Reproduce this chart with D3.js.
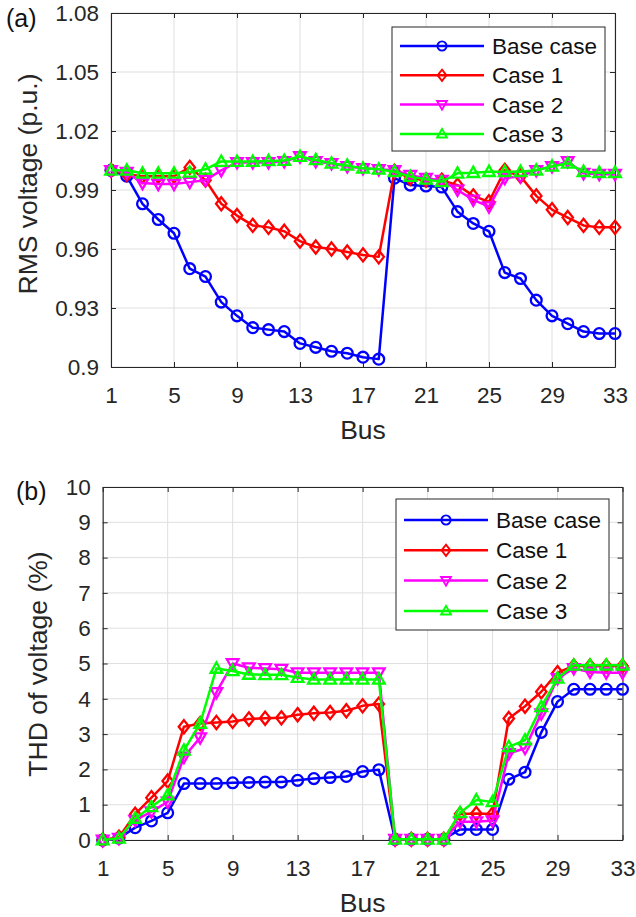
<!DOCTYPE html>
<html>
<head>
<meta charset="utf-8">
<script src="https://cdn.jsdelivr.net/npm/d3@7"></script>
<style>
html,body{margin:0;padding:0;background:#fff;}
svg{display:block;font-family:"Liberation Sans",Arial,Helvetica,sans-serif;}
</style>
</head>
<body>
<svg id="chart" width="636" height="917"></svg>
<script>
// ---------------- data ----------------
const buses = [1,2,3,4,5,6,7,8,9,10,11,12,13,14,15,16,17,18,19,20,21,22,23,24,25,26,27,28,29,30,31,32,33];
const seriesNames = ["Base case","Case 1","Case 2","Case 3"];
const xTicks = [1,5,9,13,17,21,25,29,33];
const rmsTicks = [0.9,0.93,0.96,0.99,1.02,1.05,1.08];
const rmsTickLabels = ["0.9","0.93","0.96","0.99","1.02","1.05","1.08"];
const thdTicks = [0,1,2,3,4,5,6,7,8,9,10];

const rmsBase  = [1.000,0.997,0.983,0.975,0.968,0.950,0.946,0.933,0.926,0.920,0.919,0.918,0.912,0.910,0.908,0.907,0.905,0.904,0.996,0.9925,0.992,0.9915,0.979,0.973,0.969,0.948,0.945,0.934,0.926,0.922,0.918,0.917,0.917];
const rmsCase1 = [1.000,0.998,0.997,0.997,0.997,1.0015,0.995,0.983,0.977,0.972,0.971,0.969,0.964,0.961,0.960,0.9585,0.957,0.956,0.9995,0.996,0.995,0.995,0.9925,0.987,0.984,1.000,0.997,0.987,0.980,0.976,0.972,0.971,0.971];
const rmsCase2 = [1.000,0.999,0.9935,0.993,0.993,0.994,0.995,1.000,1.004,1.004,1.004,1.0045,1.007,1.0045,1.0035,1.002,1.001,1.0005,1.000,0.9975,0.996,0.995,0.990,0.985,0.9815,0.996,0.997,1.000,1.002,1.0045,0.9985,0.998,0.998];
const rmsCase3 = [1.000,1.000,0.9985,0.9985,0.9985,0.999,1.0005,1.0045,1.0045,1.0045,1.0048,1.005,1.007,1.0053,1.0036,1.0025,1.001,1.0005,0.9993,0.9968,0.9954,0.9942,0.9985,0.9988,0.9993,0.9993,0.9993,1.000,1.002,1.0036,0.9993,0.9988,0.9988];

const thdBase  = [0,0.05,0.35,0.54,0.77,1.60,1.60,1.60,1.62,1.63,1.64,1.64,1.69,1.74,1.77,1.80,1.94,1.99,0.02,0.02,0.02,0.02,0.30,0.30,0.30,1.72,1.92,3.05,3.92,4.27,4.27,4.27,4.27];
const thdCase1 = [0,0.08,0.73,1.20,1.67,3.21,3.30,3.33,3.36,3.43,3.45,3.46,3.55,3.59,3.61,3.66,3.80,3.85,0.02,0.02,0.02,0.02,0.74,0.75,0.74,3.44,3.79,4.20,4.74,4.93,4.93,4.93,4.93];
const thdCase2 = [0,0.05,0.56,0.80,1.08,2.35,2.90,4.18,5.00,4.88,4.86,4.84,4.74,4.74,4.74,4.74,4.74,4.74,0.02,0.02,0.02,0.02,0.52,0.52,0.55,2.45,2.60,3.58,4.58,4.86,4.76,4.74,4.74];
const thdCase3 = [0,0.05,0.61,0.94,1.27,2.54,3.30,4.86,4.79,4.69,4.68,4.68,4.60,4.55,4.55,4.55,4.55,4.55,0.02,0.02,0.02,0.02,0.77,1.13,1.08,2.64,2.83,3.77,4.58,4.95,4.95,4.95,4.95];

const colors = ["#0000ff","#ff0000","#ff00ff","#00ff00"];
const markers = ["circle","diamond","triDown","triUp"];

// ---------------- helpers ----------------
const svg = d3.select("#chart");
const INK = "#262626";
const TICK_FS = 22.5, LABEL_FS = 26.5;

function markerPath(type){
  switch(type){
    case "circle": return d3.symbol(d3.symbolCircle, Math.PI*5.4*5.4)();
    case "diamond": return "M0,-6.6L5.2,0L0,6.6L-5.2,0Z";
    case "triDown": return "M-5.8,-4.3L5.8,-4.3L0,6Z";
    case "triUp": return "M-5.8,4.3L5.8,4.3L0,-6Z";
  }
}

function panel(cfg){
  const x = d3.scaleLinear().domain([1,33]).range([cfg.left,cfg.right]);
  const y = d3.scaleLinear().domain(cfg.yDomain).range([cfg.bottom,cfg.top]);
  const g = svg.append("g");

  // grid
  g.append("g").selectAll("line").data(xTicks).join("line")
    .attr("x1",d=>x(d)).attr("x2",d=>x(d)).attr("y1",cfg.top).attr("y2",cfg.bottom)
    .attr("stroke","#dfdfdf").attr("stroke-width",1);
  g.append("g").selectAll("line").data(cfg.yTicks).join("line")
    .attr("y1",d=>y(d)).attr("y2",d=>y(d)).attr("x1",cfg.left).attr("x2",cfg.right)
    .attr("stroke","#dfdfdf").attr("stroke-width",1);

  // axes
  const ax = (sel)=>{sel.selectAll("path.domain").attr("stroke",INK).attr("stroke-width",1.1);
                     sel.selectAll(".tick line").attr("stroke",INK).attr("stroke-width",1);
                     sel.selectAll("text").attr("fill",INK).attr("font-size",TICK_FS).attr("font-family",null);};
  g.append("g").attr("transform",`translate(0,${cfg.bottom})`)
    .call(d3.axisBottom(x).tickValues(xTicks).tickFormat(d3.format("d")).tickSize(-5).tickSizeOuter(0).tickPadding(20))
    .call(ax);
  g.append("g").attr("transform",`translate(0,${cfg.top})`)
    .call(d3.axisTop(x).tickValues(xTicks).tickFormat("").tickSize(-5).tickSizeOuter(0))
    .call(ax);
  g.append("g").attr("transform",`translate(${cfg.left},0)`)
    .call(d3.axisLeft(y).tickValues(cfg.yTicks).tickFormat((d,i)=>cfg.yTickLabels[i]).tickSize(-5).tickSizeOuter(0).tickPadding(12))
    .call(ax);
  g.append("g").attr("transform",`translate(${cfg.right},0)`)
    .call(d3.axisRight(y).tickValues(cfg.yTicks).tickFormat("").tickSize(-5).tickSizeOuter(0))
    .call(ax);

  // series
  const line = d3.line().x((d,i)=>x(buses[i])).y(d=>y(d));
  cfg.series.forEach((vals,si)=>{
    const sg = g.append("g");
    sg.append("path").attr("d",line(vals)).attr("fill","none")
      .attr("stroke",colors[si]).attr("stroke-width",2.5).attr("stroke-linejoin","round");
    sg.selectAll("path.m").data(vals).join("path").attr("class","m")
      .attr("d",markerPath(markers[si]))
      .attr("transform",(d,i)=>`translate(${x(buses[i])},${y(d)})`)
      .attr("fill","none").attr("stroke",colors[si]).attr("stroke-width",2.3);
  });

  // labels
  g.append("text").attr("x",(cfg.left+cfg.right)/2).attr("y",cfg.xLabelY)
    .attr("text-anchor","middle").attr("font-size",LABEL_FS).attr("fill",INK).text("Bus");
  g.append("text").attr("transform",`translate(${cfg.yLabelX},${cfg.yLabelCY}) rotate(-90)`)
    .attr("text-anchor","middle").attr("font-size",LABEL_FS).attr("fill",INK).text(cfg.yLabel);
  g.append("text").attr("x",cfg.tagX).attr("y",cfg.tagY).attr("font-size",25).attr("fill","#111").text(cfg.tag);

  // legend
  const L = cfg.legend;
  const lg = g.append("g").attr("transform",`translate(${L.x},${L.y})`);
  lg.append("rect").attr("x",0).attr("y",0).attr("width",L.w).attr("height",L.h)
    .attr("fill","#fff").attr("stroke",INK).attr("stroke-width",1);
  seriesNames.forEach((name,si)=>{
    const ry = L.row0 + si*L.dy;
    lg.append("line").attr("x1",8).attr("x2",92).attr("y1",ry).attr("y2",ry)
      .attr("stroke",colors[si]).attr("stroke-width",2.5);
    lg.append("path").attr("d",markerPath(markers[si])).attr("transform",`translate(50,${ry}) scale(0.85)`)
      .attr("fill","none").attr("stroke",colors[si]).attr("stroke-width",2.2);
    lg.append("text").attr("x",100).attr("y",ry).attr("dy","0.36em")
      .attr("font-size",TICK_FS).attr("fill","#111").text(name);
  });
}

panel({
  left:111, right:615, top:13, bottom:367,
  yDomain:[0.9,1.08], yTicks:rmsTicks, yTickLabels:rmsTickLabels,
  series:[rmsBase,rmsCase1,rmsCase2,rmsCase3],
  xLabelY:439, yLabelX:37, yLabelCY:184, yLabel:"RMS voltage (p.u.)",
  tag:"(a)", tagX:6, tagY:27,
  legend:{x:392,y:27,w:213,h:124,row0:19,dy:29.3}
});

panel({
  left:102.7, right:622.5, top:487, bottom:840,
  yDomain:[0,10], yTicks:thdTicks, yTickLabels:thdTicks.map(String),
  series:[thdBase,thdCase1,thdCase2,thdCase3],
  xLabelY:912, yLabelX:47, yLabelCY:664, yLabel:"THD of voltage (%)",
  tag:"(b)", tagX:16, tagY:500,
  legend:{x:396,y:499,w:213,h:131,row0:21,dy:30.3}
});
</script>
</body>
</html>
